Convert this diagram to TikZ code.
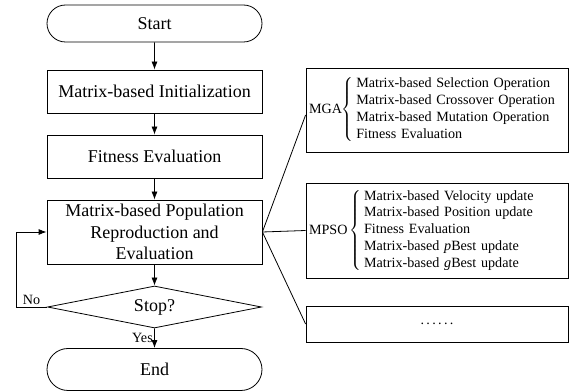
\documentclass[tikz,border=0pt]{standalone}
\usepackage{fontspec}
\setmainfont{Liberation Serif}
\usetikzlibrary{shapes.geometric,shapes.misc,arrows.meta}

\begin{document}
\begin{tikzpicture}[x=0.75pt,y=-0.75pt,line width=0.6pt,
    every node/.style={font=\fontsize{13.5}{16}\selectfont},
    flowbox/.style={draw,rectangle,minimum width=161.25pt,inner sep=0pt,align=center},
    terminal/.style={draw,rounded rectangle,minimum width=161.25pt,inner sep=0pt},
    decision/.style={draw,diamond,aspect=5,minimum width=160.5pt,minimum height=31.5pt,inner sep=0pt},
    opbox/.style={draw,rectangle,minimum width=196.5pt,text width=192pt,inner xsep=2.25pt,
        inner ysep=0pt,align=left,font=\fontsize{10.6}{12.7}\selectfont},
    small/.style={font=\fontsize{10.6}{12.7}\selectfont},
    arrow/.style={-{Latex[length=6pt,width=4.5pt]}}]
        \useasboundingbox (0,0) rectangle (569,392);

        % Main flow
        \node[terminal,minimum height=27.75pt] (start) at (154.5,23.5) {Start};
        \node[flowbox,minimum height=32.25pt] (init) at (154.5,91.5) {Matrix-based Initialization};
        \node[flowbox,minimum height=32.25pt] (fit) at (154.5,156.5) {Fitness Evaluation};
        \node[flowbox,minimum height=48pt] (repro) at (154.5,232) {Matrix-based Population\\Reproduction and\\Evaluation};
        \node[decision] (stop) at (154.5,307) {Stop?};
        \node[terminal,minimum height=31.5pt] (end) at (154.5,369.5) {End};
        \coordinate (loop) at (16,307);

        \draw[arrow] (start) -- (init);
        \draw[arrow] (init) -- (fit);
        \draw[arrow] (fit) -- (repro);
        \draw[arrow] (repro) -- (stop);
        \draw[arrow] (stop) -- node[left,small,inner sep=1pt] {Yes} (end);
        \draw[arrow] (stop.west) -- node[above,small,inner sep=1.5pt] {No} (loop) |- (repro.west);

        % Operators
        \node[opbox,minimum height=63pt] (mga) at (437,110) {MGA$\left\{\,\begin{tabular}{@{}l@{}}
            Matrix-based Selection Operation\\
            Matrix-based Crossover Operation\\
            Matrix-based Mutation Operation\\
            Fitness Evaluation\end{tabular}\right.$};
        \node[opbox,minimum height=71.25pt] (mpso) at (437,230.5) {MPSO\,$\left\{\,\begin{tabular}{@{}l@{}}
            Matrix-based Velocity update\\
            Matrix-based Position update\\
            Fitness Evaluation\\
            Matrix-based \textit{p}Best update\\
            Matrix-based \textit{g}Best update\end{tabular}\right.$};
        \node[opbox,minimum height=27pt,align=center] (more) at (437,324) {.\,.\,.\,.\,.\,.};

        \draw (repro.east) -- ([yshift=-3.75pt]mga.west);
        \draw (repro.east) -- (mpso.west);
        \draw (repro.east) -- (more.west);
\end{tikzpicture}
\end{document}
